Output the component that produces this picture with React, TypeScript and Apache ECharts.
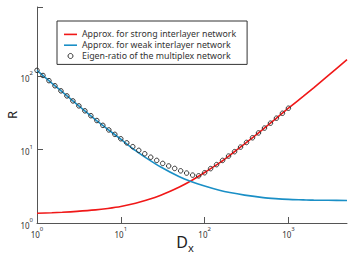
import React, { useEffect, useRef } from "react";
import * as echarts from "echarts";

// ---- data ----
const lineX = [1, 1.5, 2, 3, 5, 7, 10, 15, 20, 30, 50, 70, 100, 150, 200, 300, 500, 700, 1000, 1500, 2000, 3000, 5000];
const strongApprox = [1.36, 1.38, 1.4, 1.44, 1.51, 1.58, 1.68, 1.86, 2.04, 2.39, 3.1, 3.8, 4.88, 6.6, 8.4, 12.0, 19.1, 26.2, 36.8, 53.5, 70, 103, 169];
const weakApprox = [121, 81, 61.5, 41.5, 25.6, 19, 13.9, 9.7, 7.75, 5.8, 4.27, 3.66, 3.2, 2.8, 2.6, 2.4, 2.22, 2.15, 2.1, 2.07, 2.05, 2.04, 2.03];
const eigenX = [1, 1.179, 1.389, 1.638, 1.931, 2.276, 2.683, 3.162, 3.728, 4.394, 5.179, 6.105, 7.197, 8.483, 10, 11.79, 13.89, 16.38, 19.31, 22.76, 26.83, 31.62, 37.28, 43.94, 51.79, 61.05, 71.97, 84.83, 100, 117.9, 138.9, 163.8, 193, 227.6, 268.3, 316.2, 372.8, 439.4, 518, 610.5, 719.7, 848.3, 1000];
const eigenRatio = [121, 103, 87.5, 74.5, 63.5, 54.2, 46.3, 39.6, 33.9, 29.1, 25.0, 21.5, 18.6, 16.2, 14.1, 12.4, 11.0, 9.8, 8.8, 7.9, 7.15, 6.5, 6.0, 5.55, 5.15, 4.8, 4.5, 4.4, 4.85, 5.52, 6.26, 7.14, 8.18, 9.4, 10.85, 12.56, 14.56, 16.93, 19.72, 23.0, 26.9, 31.4, 36.8];
const xTicks = [1, 10, 100, 1000];
const yTicks = [1, 10, 100, 885];
const seriesNames = [
  "Approx. for strong interlayer network",
  "Approx. for weak interlayer network",
  "Eigen-ratio of the multiplex network",
];

const FONT = "Noto Sans";
const AXIS = "#555";
const TXT = "#333";
const RED = "#F01818";
const BLUE = "#1A8FC6";
const LINE_ICON = "path://M0,0L13,0L13,1.6L0,1.6Z";

const powLabel = (v: number) => {
  const l = Math.log10(v);
  const e = Math.round(l);
  if (Math.abs(l - e) > 1e-6) return "";
  return `{b|10}{s|${e}}`;
};
const labelRich = {
  b: { fontSize: 8, lineHeight: 12, verticalAlign: "bottom", color: TXT, fontFamily: FONT },
  s: { fontSize: 6, lineHeight: 7, verticalAlign: "top", color: TXT, fontFamily: FONT },
};

export default function App() {
  const ref = useRef<HTMLDivElement>(null);
  useEffect(() => {
    if (!ref.current) return;
    const chart = echarts.init(ref.current, null, { renderer: "svg" });
    const zip = (xs: number[], ys: number[]) => xs.map((x, i) => [x, ys[i]]);
    chart.setOption({
      animation: false,
      backgroundColor: "#ffffff",
      textStyle: { fontFamily: FONT },
      grid: { left: 37, right: 10, top: 7, bottom: 41, containLabel: false, outerBoundsMode: "none" },
      legend: {
        orient: "vertical",
        left: 57,
        top: 21,
        padding: [8, 11, 3, 7],
        itemWidth: 13,
        itemHeight: 5,
        itemGap: 0,
        borderColor: "#333",
        borderWidth: 1,
        backgroundColor: "#fff",
        textStyle: { fontSize: 8.8, lineHeight: 10.8, color: TXT, fontFamily: FONT },
        data: [
          { name: seriesNames[0], icon: LINE_ICON, itemStyle: { color: RED } },
          { name: seriesNames[1], icon: LINE_ICON, itemStyle: { color: BLUE } },
          {
            name: seriesNames[2],
            icon: "circle",
            itemStyle: { color: "rgba(255,255,255,0)", borderColor: "#222", borderWidth: 0.9 },
          },
        ],
      },
      xAxis: {
        type: "log",
        logBase: 10,
        min: 1,
        max: 5000,
        name: "{d|D}{s|x}",
        nameLocation: "middle",
        nameGap: 10,
        nameMoveOverlap: false,
        nameTextStyle: {
          padding: [0, 14, 0, 0],
          rich: {
            d: { fontSize: 16, lineHeight: 18, color: "#222", fontFamily: FONT },
            s: { fontSize: 11, lineHeight: 12, padding: [11, 0, 0, 0], color: "#222", fontFamily: FONT },
          },
        },
        axisLine: { lineStyle: { color: AXIS, width: 1 } },
        axisTick: { inside: true, length: 6, lineStyle: { color: AXIS }, customValues: xTicks },
        axisLabel: { customValues: xTicks, formatter: powLabel, margin: 3, rich: labelRich },
        splitLine: { show: false },
      },
      yAxis: {
        type: "log",
        logBase: 10,
        min: 1,
        max: 885,
        name: "R",
        nameLocation: "middle",
        nameGap: 19,
        nameMoveOverlap: false,
        nameTextStyle: { fontSize: 13, color: "#222", fontFamily: FONT },
        axisLine: { lineStyle: { color: AXIS, width: 1 } },
        axisTick: { inside: true, length: 6, lineStyle: { color: AXIS }, customValues: yTicks },
        axisLabel: { customValues: yTicks, formatter: powLabel, margin: 4, rich: labelRich },
        splitLine: { show: false },
      },
      series: [
        {
          name: seriesNames[0],
          type: "line",
          data: zip(lineX, strongApprox),
          symbol: "none",
          smooth: 0.3,
          lineStyle: { color: RED, width: 1.6 },
          itemStyle: { color: RED },
          z: 2,
        },
        {
          name: seriesNames[1],
          type: "line",
          data: zip(lineX, weakApprox),
          symbol: "none",
          smooth: 0.3,
          lineStyle: { color: BLUE, width: 1.6 },
          itemStyle: { color: BLUE },
          z: 2,
        },
        {
          name: seriesNames[2],
          type: "line",
          data: zip(eigenX, eigenRatio),
          symbol: "circle",
          symbolSize: 4.5,
          showSymbol: true,
          lineStyle: { width: 0, opacity: 0 },
          itemStyle: { color: "rgba(255,255,255,0)", borderColor: "#333", borderWidth: 1 },
          z: 3,
        },
      ],
    });
    return () => chart.dispose();
  }, []);
  return <div ref={ref} style={{ position: "fixed", left: 0, top: 0, width: 357, height: 264 }} />;
}
